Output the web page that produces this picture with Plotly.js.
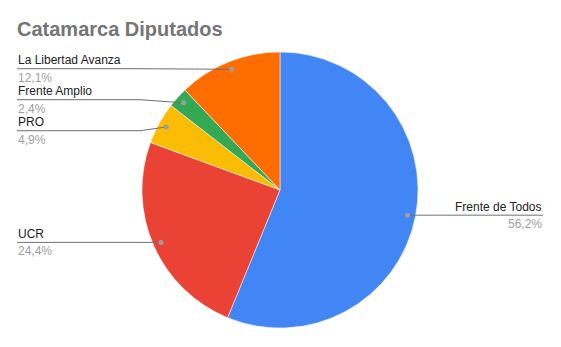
<!DOCTYPE html>
<html>
<head>
<meta charset="utf-8">
<script src="https://cdn.plot.ly/plotly-3.0.1.min.js"></script>
<style>html,body{margin:0;padding:0;background:#fff;}#chart{width:561px;height:347px;}</style>
</head>
<body>
<div id="chart"></div>
<script>
const categories = ["Frente de Todos", "UCR", "PRO", "Frente Amplio", "La Libertad Avanza"];
const values = [56.2, 24.4, 4.9, 2.4, 12.1];
const colors = ["#4285F4", "#EA4335", "#FBBC04", "#34A853", "#FF6D01"];

const W = 561, H = 347;
const cx = 280, cy = 190, R = 138;
const dotR = R * 0.942;
const leftX = 17, rightX = 543;
const minGap = 31;
const FONT = '"Liberation Sans", Arial, sans-serif';

const total = values.reduce((a, b) => a + b, 0);
const px = x => x / W;
const py = y => 1 - y / H;

// compute slice mid-angle dots
let cum = 0;
const items = values.map((v, i) => {
  const a0 = cum / total * 2 * Math.PI;
  cum += v;
  const a1 = cum / total * 2 * Math.PI;
  const am = (a0 + a1) / 2;
  const dx = cx + dotR * Math.sin(am);
  const dy = cy - dotR * Math.cos(am);
  return { i, dx, dy, side: Math.sin(am) < 0 ? 'left' : 'right', ly: dy,
    pct: (v / total * 100).toFixed(1).replace('.', ',') + '%' };
});

// resolve label overlaps per side
['left', 'right'].forEach(side => {
  const arr = items.filter(o => o.side === side).sort((a, b) => a.dy - b.dy);
  let clusters = arr.map(o => [o]);
  let merged = true;
  while (merged) {
    merged = false;
    for (let k = 0; k < clusters.length - 1; k++) {
      const a = clusters[k], b = clusters[k + 1];
      if (b[0].ly - a[a.length - 1].ly < minGap - 0.01) {
        const c = a.concat(b);
        const mean = c.reduce((s, o) => s + o.dy, 0) / c.length;
        c.forEach((o, j) => { o.ly = mean + (j - (c.length - 1) / 2) * minGap; });
        clusters.splice(k, 2, c);
        merged = true;
        break;
      }
    }
  }
});

const shapes = [];
const annotations = [];
items.forEach(o => {
  const left = o.side === 'left';
  const edgeX = left ? leftX : rightX;
  const bendX = left ? cx - R - 2 : cx + R + 2;
  shapes.push({
    type: 'path', xref: 'paper', yref: 'paper',
    path: `M ${px(edgeX)},${py(o.ly)} L ${px(bendX)},${py(o.ly)} L ${px(o.dx)},${py(o.dy)}`,
    line: { color: '#6f6f6f', width: 1 }
  });
  shapes.push({
    type: 'circle', xref: 'paper', yref: 'paper',
    x0: px(o.dx - 2.5), x1: px(o.dx + 2.5), y0: py(o.dy + 2.5), y1: py(o.dy - 2.5),
    fillcolor: '#9e9e9e', line: { width: 0 }
  });
  annotations.push({
    xref: 'paper', yref: 'paper', x: px(edgeX), y: py(o.ly - 0.5),
    xanchor: left ? 'left' : 'right', yanchor: 'bottom', showarrow: false,
    text: categories[o.i], font: { family: FONT, size: 12, color: '#222222' },
    borderpad: 0
  });
  annotations.push({
    xref: 'paper', yref: 'paper', x: px(edgeX), y: py(o.ly + 1),
    xanchor: left ? 'left' : 'right', yanchor: 'top', showarrow: false,
    text: o.pct, font: { family: FONT, size: 12, color: '#9e9e9e' },
    borderpad: 0
  });
});

const data = [{
  type: 'pie',
  labels: categories,
  values: values,
  sort: false,
  direction: 'clockwise',
  rotation: 0,
  textinfo: 'none',
  hoverinfo: 'label+percent',
  marker: { colors: colors, line: { color: '#ffffff', width: 0.5 } },
  domain: { x: [(cx - R) / W, (cx + R) / W], y: [1 - (cy + R) / H, 1 - (cy - R) / H] },
  showlegend: false
}];

const layout = {
  width: W, height: H,
  margin: { l: 0, r: 0, t: 0, b: 0 },
  paper_bgcolor: '#ffffff',
  showlegend: false,
  title: {
    text: '<b>Catamarca Diputados</b>',
    xref: 'container', yref: 'container',
    x: 17 / W, xanchor: 'left',
    y: 1 - 29 / H, yanchor: 'middle',
    font: { family: FONT, size: 20, color: '#757575' }
  },
  shapes: shapes,
  annotations: annotations
};

Plotly.newPlot('chart', data, layout, { staticPlot: true });
</script>
</body>
</html>
